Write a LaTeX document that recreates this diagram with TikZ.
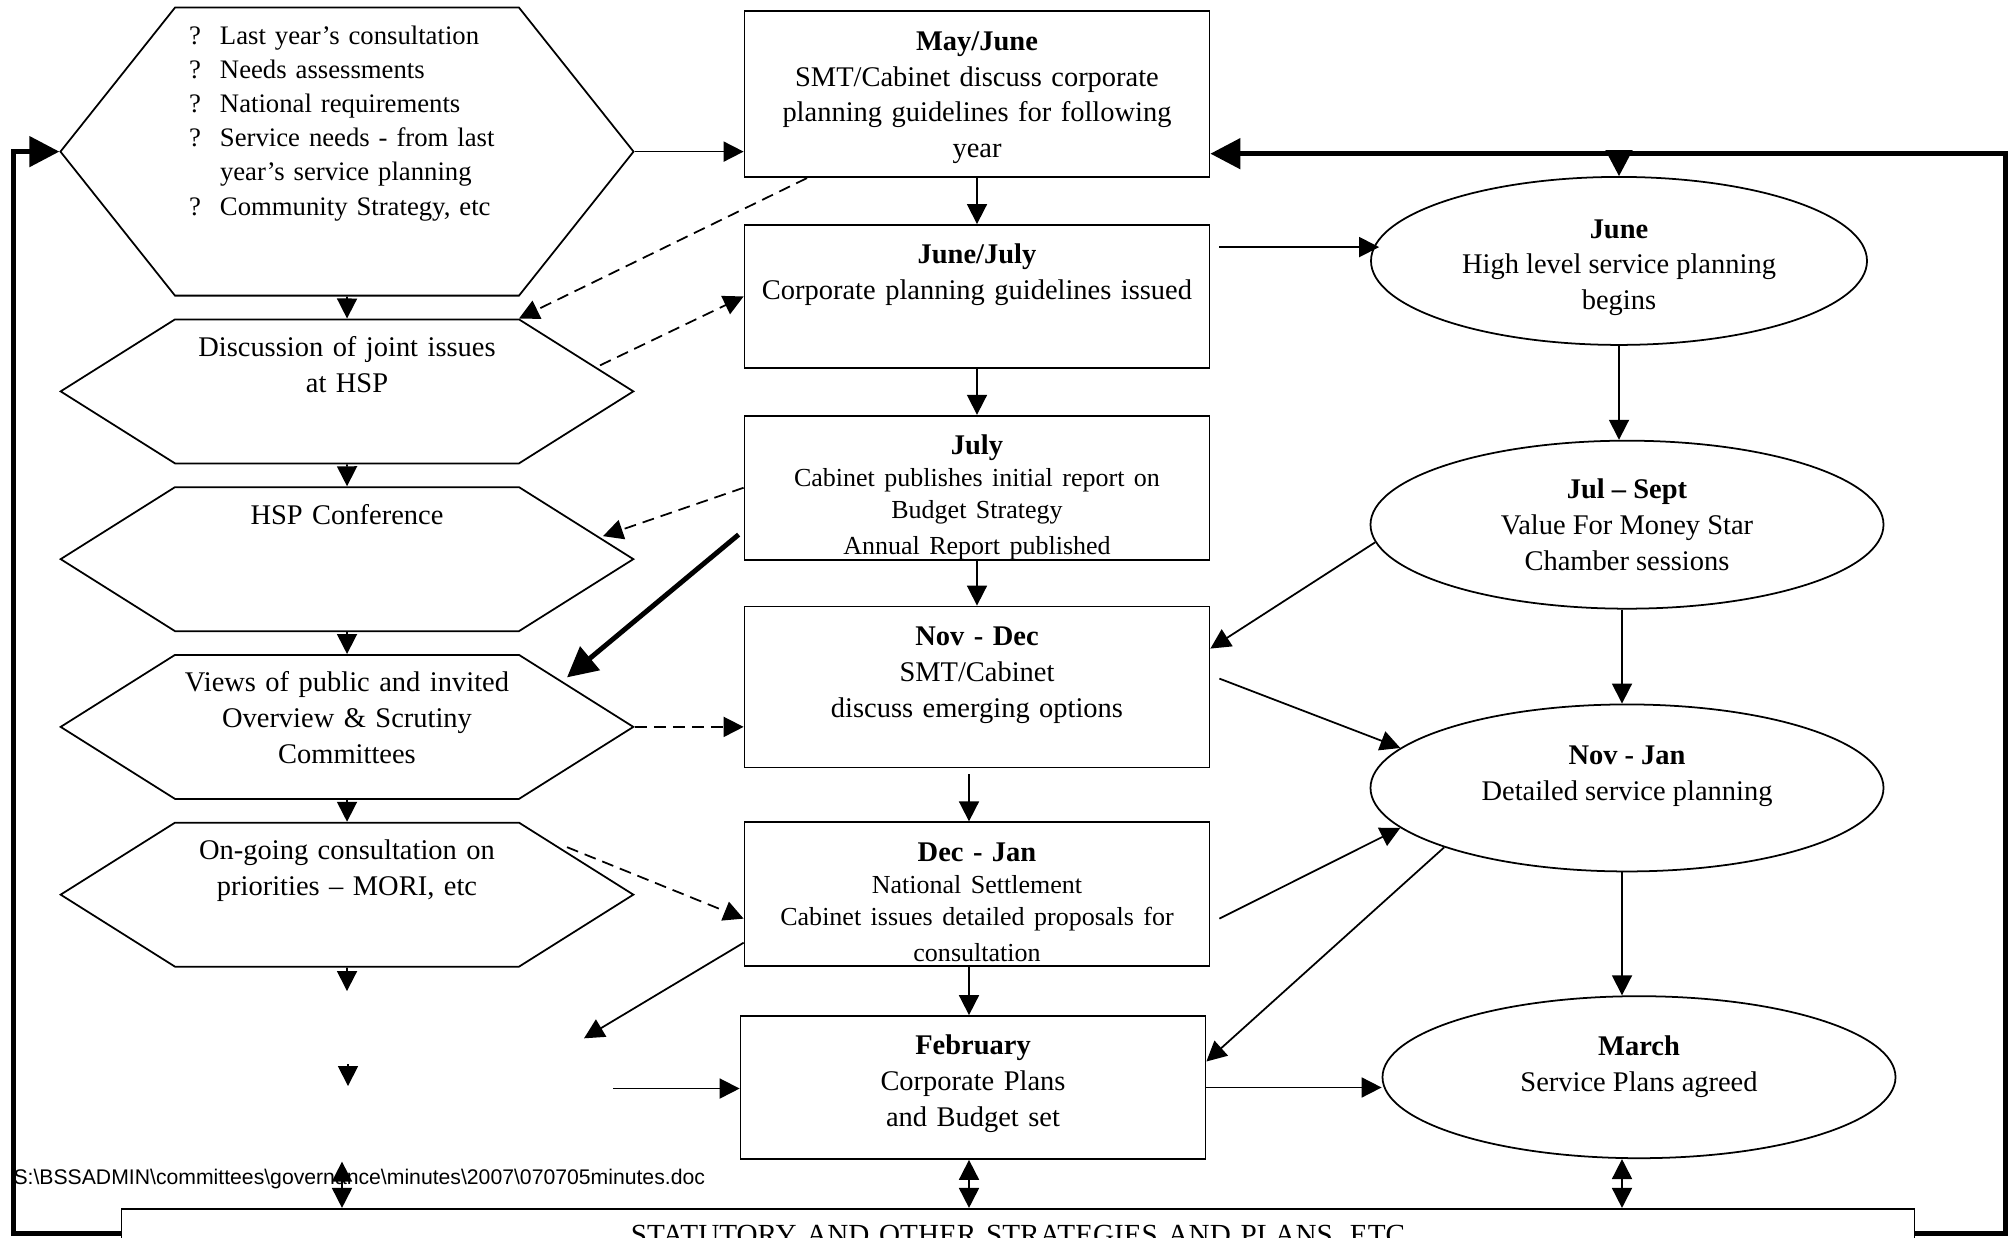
\documentclass[tikz,border=0pt]{standalone}
\usepackage{fontspec}
\setmainfont{Liberation Serif}
\newfontfamily\pathfont{Liberation Sans}
\usetikzlibrary{arrows.meta,positioning,shapes}

\begin{document}
\begin{tikzpicture}[
  node distance=0.46cm,
  >={Triangle[length=0.2cm,width=0.2cm]},
  block/.style={rectangle, draw, line width=0.5pt, align=center, inner sep=0pt, text width=4.65cm, text height=0.39cm, font=\fontsize{8.1}{10.2}\selectfont},
  hexa/.style={signal, signal to=west and east, signal pointer angle=64.4, draw, line width=0.5pt, align=center, inner sep=0pt, text width=3.44cm, text height=0.37cm, text depth=1.07cm, font=\fontsize{8.1}{10.2}\selectfont},
  phase/.style={ellipse, draw, line width=0.5pt, align=center, inner sep=0pt, minimum width=5.13cm, minimum height=1.68cm, font=\fontsize{8.1}{10.2}\selectfont},
  line/.style={draw, line width=0.5pt, ->},
  dline/.style={line, dash pattern=on 3.4pt off 2pt},
  both/.style={draw, line width=0.5pt, <->},
  heavy/.style={draw, line width=1.4pt},
  heavyline/.style={heavy, -{Triangle[length=0.3cm,width=0.3cm]}}
]
\useasboundingbox (0,0) rectangle (20.15,-12.37);

% left column
\node[hexa, signal pointer angle=103, text depth=2.51cm, align=left, font=\fontsize{7.6}{9.7}\selectfont] (hex1) at (3.47,-1.516)
  {\hspace*{0.14cm}\makebox[0.31cm][l]{?}Last year's consultation\\
   \hspace*{0.14cm}\makebox[0.31cm][l]{?}Needs assessments\\
   \hspace*{0.14cm}\makebox[0.31cm][l]{?}National requirements\\
   \hspace*{0.14cm}\makebox[0.31cm][l]{?}Service needs - from last\\
   \hspace*{0.45cm}year's service planning\\
   \hspace*{0.14cm}\makebox[0.31cm][l]{?}Community Strategy, etc};
\node[hexa, below=0.22cm of hex1] (hex2) {Discussion of joint issues\\at HSP};
\node[hexa, below=0.22cm of hex2] (hex3) {HSP Conference};
\node[hexa, below=0.22cm of hex3] (hex4) {Views of public and invited\\Overview \& Scrutiny\\Committees};
\node[hexa, below=0.22cm of hex4] (hex5) {On-going consultation on\\priorities -- MORI, etc};

% middle column
\node[block, text depth=1.27cm, anchor=north] (mayjune) at (9.77,-0.103) {\textbf{May/June}\\SMT/Cabinet discuss corporate\\planning guidelines for following\\year};
\node[block, text depth=1.04cm, below=of mayjune] (junejuly) {\textbf{June/July}\\Corporate planning guidelines issued};
\node[block, text depth=1.05cm, below=of junejuly] (july) {\textbf{July}\\\fontsize{7.4}{9.1}\selectfont Cabinet publishes initial report on\\Budget Strategy\\Annual Report published};
\node[block, text depth=1.22cm, below=0.45cm of july] (novdec) {\textbf{Nov - Dec}\\SMT/Cabinet\\discuss emerging options};
\node[block, text depth=1.05cm, below=0.53cm of novdec] (decjan) {\textbf{Dec - Jan}\\\fontsize{7.4}{9.1}\selectfont National Settlement\\Cabinet issues detailed proposals for\\consultation};
\node[block, text depth=1.04cm, below=0.48cm of decjan, xshift=-0.04cm] (feb) {\textbf{February}\\Corporate Plans\\and Budget set};

% right column
\node[phase, minimum width=4.96cm, text height=1.04cm] (june) at (16.19,-2.609) {\textbf{June}\\High level service planning\\begins};
\node[phase, below=0.94cm of june, xshift=0.08cm] (julsep) {\textbf{Jul -- Sept}\\Value For Money Star\\Chamber sessions};
\node[phase, below=0.94cm of julsep, minimum height=1.67cm, text depth=0.29cm] (novjan) {\textbf{Nov - Jan}\\Detailed service planning};
\node[phase, below=1.23cm of novjan, xshift=0.12cm, minimum height=1.62cm, text depth=0.28cm] (march) {\textbf{March}\\Service Plans agreed};

% bottom bar and file path
\node[rectangle, draw, line width=0.5pt, inner sep=0pt, text width=17.93cm, align=center, text height=0.36cm, text depth=0.13cm, anchor=north, font=\fontsize{8.3}{10}\selectfont] (bar) at (10.18,-12.079) {STATUTORY AND OTHER STRATEGIES AND PLANS, ETC};
\node[anchor=base west, inner sep=0pt, font=\pathfont\fontsize{6.03}{7}\selectfont] (path) at (0.128,-11.84) {S:\textbackslash BSSADMIN\textbackslash committees\textbackslash governance\textbackslash minutes\textbackslash 2007\textbackslash 070705minutes.doc};

\coordinate (looptop) at ([yshift=0.244cm]mayjune.south east);
\coordinate (hexfoot) at ([yshift=-0.235cm]hex5.south);
\coordinate (stubtop) at (3.48,-10.64);
\coordinate (stubend) at (3.48,-10.86);
\coordinate (leftlink) at (3.42,-11.616);
\coordinate (decjanend) at (5.84,-10.383);
\coordinate (febstart) at (6.13,-10.885);

% left column arrows
\path[line] (hex1) -- (hex2);
\path[line] (hex2) -- (hex3);
\path[line] (hex3) -- (hex4);
\path[line] (hex4) -- (hex5);
\path[line] (hex5) -- (hexfoot);
\path[line] (stubtop) -- (stubend);
\path[both] (leftlink) -- (leftlink |- bar.north);

% middle column arrows
\path[line] (mayjune) -- (junejuly);
\path[line] (junejuly) -- (july);
\path[line] (july) -- (novdec);
\path[line] ([xshift=-0.08cm,yshift=-0.06cm]novdec.south) -- ([xshift=-0.08cm]decjan.north);
\path[line] ([xshift=-0.08cm]decjan.south) -- ([xshift=-0.08cm]decjan.south |- feb.north);
\path[both] ([xshift=-0.04cm]feb.south) -- ([xshift=-0.04cm]feb.south |- bar.north);

% right column arrows
\path[line] (june.south) -- (june.south |- julsep.north);
\path[line] ([xshift=-0.05cm]julsep.south) -- ([xshift=-0.05cm]novjan.north);
\path[line] ([xshift=-0.05cm]novjan.south) -- ([xshift=-0.05cm]novjan.south |- march.north);
\path[both] ([xshift=-0.17cm]march.south) -- ([xshift=-0.17cm]march.south |- bar.north);

% links across columns
\path[line] (hex1.east) -- (hex1.east -| mayjune.west);
\path[dline] ([xshift=-1.7cm]mayjune.south) -- ([xshift=1.72cm]hex2.north);
\path[dline] ([xshift=-0.35cm,yshift=0.26cm]hex2.east) -- (junejuly.west);
\path[dline] (july.west) -- ([xshift=-0.32cm,yshift=0.23cm]hex3.east);
\path[heavyline] ([xshift=-0.05cm,yshift=0.26cm]july.south west) -- ([xshift=-0.68cm,yshift=0.495cm]hex4.east);
\path[dline] (hex4.east) -- (hex4.east -| novdec.west);
\path[dline] ([xshift=-0.68cm,yshift=0.475cm]hex5.east) -- ([yshift=-0.244cm]decjan.west);
\path[line] ([yshift=0.244cm]decjan.south west) -- (decjanend);
\path[line] (febstart) -- (febstart -| feb.west);

\path[line] ([xshift=0.09cm,yshift=-0.23cm]junejuly.north east) -- ([xshift=0.09cm,yshift=-0.23cm]junejuly.north east -| june.west);
\path[line] (julsep.184) -- ([yshift=-0.43cm]novdec.north east);
\path[line] ([xshift=0.09cm,yshift=-0.73cm]novdec.north east) -- (novjan.170);
\path[line] ([xshift=0.09cm,yshift=-0.244cm]decjan.east) -- (novjan.190);
\path[line] (novjan.198) -- ([yshift=0.26cm]feb.east);
\path[line] (feb.east) -- (feb.east -| march.west);

% feedback loops
\path[heavyline] (bar.east) -- ++(0.9,0) |- (looptop);
\path[draw, line width=0.5pt, -{Triangle[length=0.26cm,width=0.27cm]}] (june.north |- looptop) -- (june.north);
\path[heavyline] (bar.west) -- ++(-1.07,0) |- (hex1.west);

\end{tikzpicture}
\end{document}
